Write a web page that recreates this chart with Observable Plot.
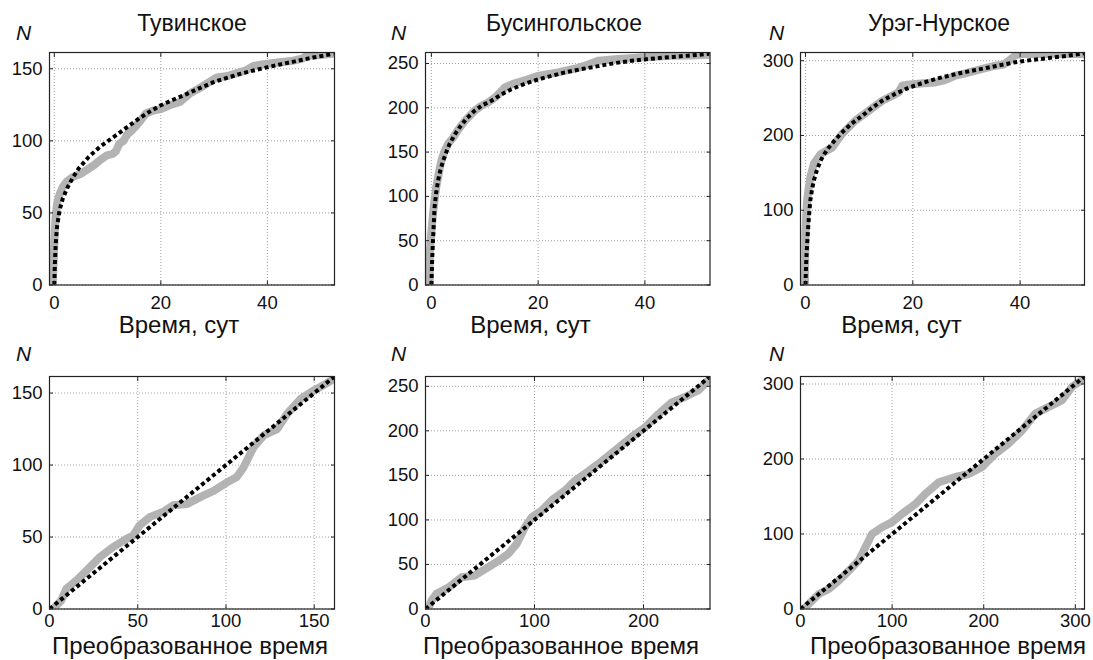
<!DOCTYPE html>
<html><head><meta charset="utf-8">
<script src="https://cdn.jsdelivr.net/npm/d3@7"></script>
<script src="https://cdn.jsdelivr.net/npm/@observablehq/plot@0.6"></script>
<style>
html,body{margin:0;padding:0;background:#fff;overflow:hidden;}
#root{position:relative;width:1093px;height:660px;font-family:"Liberation Sans",Arial,sans-serif;color:#111;}
.t{position:absolute;font-size:23px;line-height:23px;white-space:nowrap;transform:translateX(-50%);}
.xl{position:absolute;font-size:24px;line-height:24px;white-space:nowrap;transform:translateX(-50%);}
.n{position:absolute;font-size:21px;line-height:21px;font-style:italic;}
</style></head><body><div id="root"></div>
<script>
// ---------- data ----------
const titles = ["Тувинское", "Бусингольское", "Урэг-Нурское"];
const xLabelTop = "Время, сут";
const xLabelBottom = "Преобразованное время";
const yLabel = "N";

// Тувинское: N vs time
const tuvaObsT = [-0.3, -0.1, 0.1, 0.3, 0.6, 1.0, 1.6, 2.4, 3.5, 4.9, 6.2, 7.4, 8.7, 9.9, 11.0, 11.6, 12.2, 13.0, 13.6, 14.5, 15.5, 16.4, 17.2, 18.6, 20.0, 21.5, 23.6, 25.5, 27.0, 28.6, 30.5, 32.5, 34.9, 36.0, 37.4, 39.0, 41.1, 44.9, 46.5, 47.4, 50.0, 52.6];
const tuvaObsN = [0, 18, 38, 50, 58, 63, 68, 72, 75, 77, 80, 83, 87, 90, 91, 93, 98, 100, 104, 107, 111, 115, 119, 121, 122, 124.5, 127, 133, 136, 139.6, 144, 145, 147.7, 149, 152, 153, 154, 155.6, 157, 159, 159.5, 160.6];
const tuvaFitT = [0, 0.1, 0.25, 0.5, 1.0, 1.6, 2.4, 3.4, 4.6, 6.5, 8.6, 10.5, 12.4, 14.2, 16.1, 18.0, 19.9, 22.4, 24.9, 27.4, 29.9, 32.4, 34.9, 37.4, 39.9, 42.4, 44.9, 48.6, 52.4];
const tuvaFitN = [0, 14, 27, 40, 52, 60, 67, 74, 81, 89, 96, 101, 106, 111, 116, 120.5, 124.5, 128.7, 132.6, 136.8, 140.7, 143.7, 146.5, 148.8, 151, 153, 155, 157.8, 160.4];
// Тувинское: N vs transformed time
const tuvaTrX = [2, 6.6, 9.5, 15.2, 21, 28.5, 36, 43.6, 47.4, 51, 57, 64.5, 70, 78, 85.4, 93, 100.6, 106, 110, 115.7, 121.4, 129, 134.7, 142.3, 150, 156, 161.3];
const tuvaTrN = [0, 5.8, 14, 19.7, 26.7, 36, 43, 48.7, 51, 58, 64, 67.5, 72, 73, 77.7, 82, 88, 91.5, 98.4, 112.5, 120.6, 125, 135.6, 146, 152, 156, 160];
const tuvaDiag = [0, 161.5];

// Бусингольское
const busObsT = [-0.3, -0.3, 0.0, 0.3, 0.6, 0.9, 1.3, 1.6, 2.0, 2.5, 3.2, 4.1, 5.0, 6.25, 7.2, 8.1, 9.3, 10.6, 12.0, 13.75, 15.3, 16.9, 18.5, 20, 21.8, 23.75, 26.0, 27.5, 28.5, 31.25, 35, 40, 45, 48.5, 52.2];
const busObsN = [0, 35, 60, 80, 96, 110, 123, 133, 143, 151.5, 160, 166.5, 175, 185, 191, 196.6, 202, 206, 212, 223, 227, 230, 233, 236, 238, 240, 243, 245, 247, 253, 255, 257, 258.6, 259, 260];
const busFitT = [0, 0.15, 0.3, 0.6, 0.9, 1.25, 1.7, 2.2, 2.8, 3.4, 4.3, 5.3, 6.6, 8.1, 9.6, 11.25, 13.1, 15, 17.5, 20, 22.5, 25, 28, 31.25, 34.4, 37.5, 40.6, 43.75, 47.5, 52.2];
const busFitN = [0, 28, 50, 87.6, 104, 117.7, 130, 140, 150, 159, 169, 178, 188, 196.6, 203, 208, 215, 221, 227, 232, 236, 240, 243.5, 247, 250.5, 253, 255, 256.8, 258.5, 261];
const busTrX = [2.5, 5.5, 10, 21, 33, 45, 57.6, 66.8, 76, 83.6, 91.3, 97.5, 106.6, 115.8, 128, 137, 146.4, 158.6, 174, 189, 201.5, 213.8, 226, 238, 250.5, 259.7];
const busTrN = [0, 9.4, 17, 24, 35.6, 37.5, 47, 54, 62, 73, 92, 103, 110.6, 122, 133, 144, 152, 163, 178, 193, 204, 219, 232, 238, 245.6, 257];
const busDiag = [0, 261];

// Урэг-Нурское
const uregObsT = [-0.1, 0.0, 0.15, 0.3, 0.6, 0.9, 1.55, 2.8, 5.0, 6.8, 9.3, 11.8, 14.3, 16.1, 17.4, 18.0, 19.0, 20.5, 22.0, 24.2, 26.0, 27.95, 29.8, 31.7, 33.5, 35.4, 37.0, 37.9, 38.6, 39.1, 40.0, 41.6, 45, 48, 52];
const uregObsN = [0, 68, 95, 113, 130, 144, 162, 175, 184, 202, 220, 233, 246.5, 253, 258, 266.6, 268, 269, 270, 271, 274, 280, 283, 286.6, 290, 293.3, 295, 300, 304, 307, 309, 309, 309, 309, 309];
const uregFitT = [0, 0.1, 0.2, 0.35, 0.5, 0.7, 0.9, 1.2, 1.55, 2.1, 2.8, 3.5, 4.35, 5.5, 6.8, 8.6, 10.6, 12.4, 14.3, 16.8, 19.25, 21.7, 24.2, 26.7, 29.2, 31.7, 34.2, 36.6, 39.1, 42.2, 45.3, 48.6, 52];
const uregFitN = [0, 25, 41, 60, 77, 96, 113, 127, 139.5, 153, 166, 175, 184, 194, 204, 216, 226.5, 237, 246.5, 256, 264, 270, 275.5, 280, 284, 287.5, 291, 294.5, 298, 301, 303.6, 306.5, 310];
const uregTrX = [3.6, 9, 20, 31, 42, 52.7, 63.6, 70.9, 78, 89, 100, 111, 125.5, 136.4, 151, 169, 183.6, 198, 212.7, 227, 241.8, 256.4, 271, 285.5, 296.4, 307];
const uregTrN = [0, 6.7, 20, 26.7, 38, 51, 64.6, 82.4, 100, 109, 115.8, 127, 140, 153.7, 169, 176, 180, 189, 207, 220.5, 238, 260.6, 269.5, 278.4, 296.3, 305];
const uregDiag = [0, 310];

// ticks
const timeTicks = [0, 20, 40];
const tuvaTicks = [0, 50, 100, 150];
const busTicks = [0, 50, 100, 150, 200, 250];
const uregTicks = [0, 100, 200, 300];
const busTrXTicks = [0, 100, 200];

// ---------- drawing ----------
const root = document.getElementById("root");
const colLeft = [49, 424.5, 800], colW = [285, 284.5, 284];
const rowTop = [52, 376], rowH = 232.5;

function panel(col, row, o) {
  const mL = 50, mR = 10, mT = 12, mB = 36;
  const w = colW[col], h = rowH;
  const obs = o.obsX.map((x, i) => ({x, y: o.obsY[i]}));
  const fit = o.fitX.map((x, i) => ({x, y: o.fitY[i]}));
  const gridStyle = {stroke: "#a0a0a0", strokeOpacity: 1, strokeWidth: 1, strokeDasharray: "1,2"};
  const axisText = {fontSize: 18.5, fill: "#111", stroke: "#222"};
  const svg = Plot.plot({
    width: mL + w + mR, height: mT + h + mB,
    marginLeft: mL, marginRight: mR, marginTop: mT, marginBottom: mB,
    style: {fontFamily: "'Liberation Sans', Arial, sans-serif", fontSize: "18.5px", color: "#111", background: "transparent", overflow: "visible"},
    x: {domain: o.xDomain},
    y: {domain: o.yDomain},
    marks: [
      Plot.gridX(o.xTicks, gridStyle),
      Plot.gridY(o.yTicks, gridStyle),
      Plot.line(obs, {x: "x", y: "y", stroke: "#b3b3b3", strokeWidth: 8, clip: true}),
      Plot.line(fit, {x: "x", y: "y", stroke: "#000", strokeWidth: 4, strokeDasharray: "4,3", strokeLinecap: "butt", clip: true}),
      Plot.axisX(o.xTicks, {anchor: "bottom", tickSize: -4, tickPadding: o.xPad, label: null, ...axisText}),
      Plot.axisY(o.yTicks, {anchor: "left", tickSize: -4, tickPadding: 11, label: null, ...axisText}),
      Plot.axisX(o.xTicks, {anchor: "top", tickSize: -4, tickFormat: () => "", label: null, stroke: "#222"}),
      Plot.axisY(o.yTicks, {anchor: "right", tickSize: -4, tickFormat: () => "", label: null, stroke: "#222"}),
      Plot.frame({stroke: "#222", strokeWidth: 1.2})
    ]
  });
  svg.style.position = "absolute";
  svg.style.left = (colLeft[col] - mL) + "px";
  svg.style.top = (rowTop[row] - mT) + "px";
  root.appendChild(svg);
}

function addText(cls, text, left, top) {
  const d = document.createElement("div");
  d.className = cls;
  d.textContent = text;
  d.style.left = left + "px";
  d.style.top = top + "px";
  root.appendChild(d);
}

panel(0, 0, {obsX: tuvaObsT, obsY: tuvaObsN, fitX: tuvaFitT, fitY: tuvaFitN, xDomain: [-0.9, 52.6], yDomain: [0, 161.3], xTicks: timeTicks, yTicks: tuvaTicks, xPad: 15});
panel(1, 0, {obsX: busObsT, obsY: busObsN, fitX: busFitT, fitY: busFitN, xDomain: [-1.1, 52.2], yDomain: [0, 262.4], xTicks: timeTicks, yTicks: busTicks, xPad: 15});
panel(2, 0, {obsX: uregObsT, obsY: uregObsN, fitX: uregFitT, fitY: uregFitN, xDomain: [-0.93, 52], yDomain: [0, 311], xTicks: timeTicks, yTicks: uregTicks, xPad: 15});
panel(0, 1, {obsX: tuvaTrX, obsY: tuvaTrN, fitX: tuvaDiag, fitY: tuvaDiag, xDomain: [0, 161.5], yDomain: [0, 161.5], xTicks: tuvaTicks, yTicks: tuvaTicks, xPad: 9});
panel(1, 1, {obsX: busTrX, obsY: busTrN, fitX: busDiag, fitY: busDiag, xDomain: [0, 261], yDomain: [0, 261], xTicks: busTrXTicks, yTicks: busTicks, xPad: 9});
panel(2, 1, {obsX: uregTrX, obsY: uregTrN, fitX: uregDiag, fitY: uregDiag, xDomain: [0, 310], yDomain: [0, 310], xTicks: uregTicks, yTicks: uregTicks, xPad: 9});

// titles
[192, 564, 939].forEach((cx, i) => addText("t", titles[i], cx, 12));
// x labels
[179, 530.5, 901.5].forEach(cx => addText("xl", xLabelTop, cx, 313));
[190, 561, 948].forEach(cx => addText("xl", xLabelBottom, cx, 634));
// N labels
[16, 391, 769].forEach(x => { addText("n", yLabel, x, 22); addText("n", yLabel, x, 343); });
</script></body></html>
